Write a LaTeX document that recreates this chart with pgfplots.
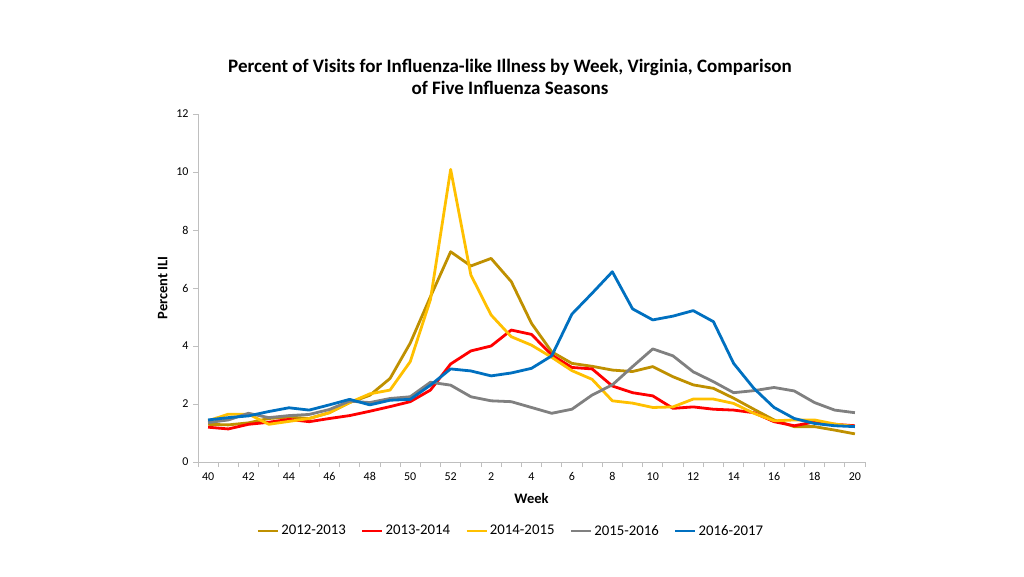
\documentclass[border=0pt]{standalone}
\usepackage{fontspec}
\setmainfont{Carlito}
\usepackage{pgfplots}
\pgfplotsset{compat=1.18}

\definecolor{sGold}{HTML}{BF9000}
\definecolor{sRed}{HTML}{FF0000}
\definecolor{sYellow}{HTML}{FFC000}
\definecolor{sGray}{HTML}{808080}
\definecolor{sBlue}{HTML}{0070C0}
\definecolor{axgray}{HTML}{BFBFBF}

% index 0..12 = weeks 40..52, index 13..32 = weeks 1..20
\pgfplotstableread{
i s1213 s1314 s1415 s1516 s1617
0  1.30 1.20 1.42 1.36 1.45
1  1.28 1.14 1.65 1.45 1.53
2  1.35 1.30 1.65 1.68 1.59
3  1.50 1.37 1.30 1.53 1.74
4  1.55 1.47 1.40 1.60 1.87
5  1.50 1.39 1.50 1.64 1.79
6  1.70 1.50 1.70 1.81 1.97
7  2.05 1.60 2.05 2.10 2.16
8  2.30 1.75 2.35 2.05 1.97
9  2.88 1.91 2.48 2.19 2.13
10 4.10 2.08 3.46 2.25 2.16
11 5.70 2.48 5.60 2.75 2.65
12 7.25 3.38 10.09 2.65 3.21
13 6.76 3.83 6.45 2.25 3.14
14 7.02 4.00 5.07 2.11 2.97
15 6.22 4.55 4.32 2.08 3.07
16 4.78 4.40 4.03 1.88 3.23
17 3.80 3.69 3.61 1.68 3.66
18 3.40 3.26 3.15 1.82 5.10
19 3.30 3.21 2.85 2.31 5.82
20 3.17 2.62 2.11 2.66 6.56
21 3.12 2.39 2.03 3.29 5.28
22 3.29 2.28 1.88 3.90 4.90
23 2.94 1.85 1.90 3.66 5.03
24 2.66 1.90 2.17 3.11 5.22
25 2.54 1.82 2.17 2.77 4.84
26 2.20 1.79 2.02 2.39 3.40
27 1.82 1.70 1.68 2.46 2.54
28 1.45 1.39 1.42 2.57 1.88
29 1.22 1.25 1.45 2.45 1.50
30 1.22 1.38 1.45 2.05 1.33
31 1.10 1.30 1.31 1.79 1.25
32 0.97 1.25 1.22 1.70 1.22
}\ilidata

\begin{document}
\begin{tikzpicture}
\useasboundingbox (0,0) rectangle (1024pt,576pt);
\node[align=center, font=\bfseries\fontsize{19}{22}\selectfont] at (510pt,499pt)
  {Percent of Visits for Influenza-like Illness by Week, Virginia, Comparison\\of Five Influenza Seasons};
\begin{axis}[
  at={(198pt,114pt)}, anchor=south west,
  scale only axis, width=667pt, height=348pt,
  xmin=-0.5, xmax=32.5, ymin=0, ymax=12,
  axis x line*=bottom, axis y line*=left,
  axis line style={draw=axgray, line width=0.8pt, -},
  tick style={draw=axgray, line width=0.8pt},
  tick align=outside, major tick length=5pt,
  ytick={0,2,...,12},
  xtick={-0.5,0.5,...,32.5}, xticklabels={},
  extra x ticks={0,2,...,32},
  extra x tick labels={40,42,44,46,48,50,52,2,4,6,8,10,12,14,16,18,20},
  extra x tick style={major tick length=0pt},
  ticklabel style={font=\fontsize{12}{14}\selectfont},
  /pgf/number format/assume math mode=true,
  xticklabel style={yshift=-7pt},
  yticklabel style={xshift=-1pt},
  xlabel={Week}, ylabel={Percent ILI},
  label style={font=\bfseries\fontsize{14.5}{16}\selectfont},
  xlabel style={yshift=-1pt},
  ylabel style={yshift=2pt},
  legend columns=5,
  legend style={at={(0.469,-0.198)}, anchor=center, draw=none,
    font=\fontsize{14.8}{16}\selectfont,
    /tikz/every even column/.append style={column sep=13pt}},
  legend image code/.code={\draw[#1] (0pt,0pt) -- (20pt,0pt);},
  every axis plot/.append style={line width=2.8pt, line join=round, mark=none},
]
\addplot[sGold] table[x=i, y=s1213] {\ilidata};
\addlegendentry{2012-2013}
\addplot[sRed] table[x=i, y=s1314] {\ilidata};
\addlegendentry{2013-2014}
\addplot[sYellow] table[x=i, y=s1415] {\ilidata};
\addlegendentry{2014-2015}
\addplot[sGray] table[x=i, y=s1516] {\ilidata};
\addlegendentry{2015-2016}
\addplot[sBlue] table[x=i, y=s1617] {\ilidata};
\addlegendentry{2016-2017}
\end{axis}
\end{tikzpicture}
\end{document}
